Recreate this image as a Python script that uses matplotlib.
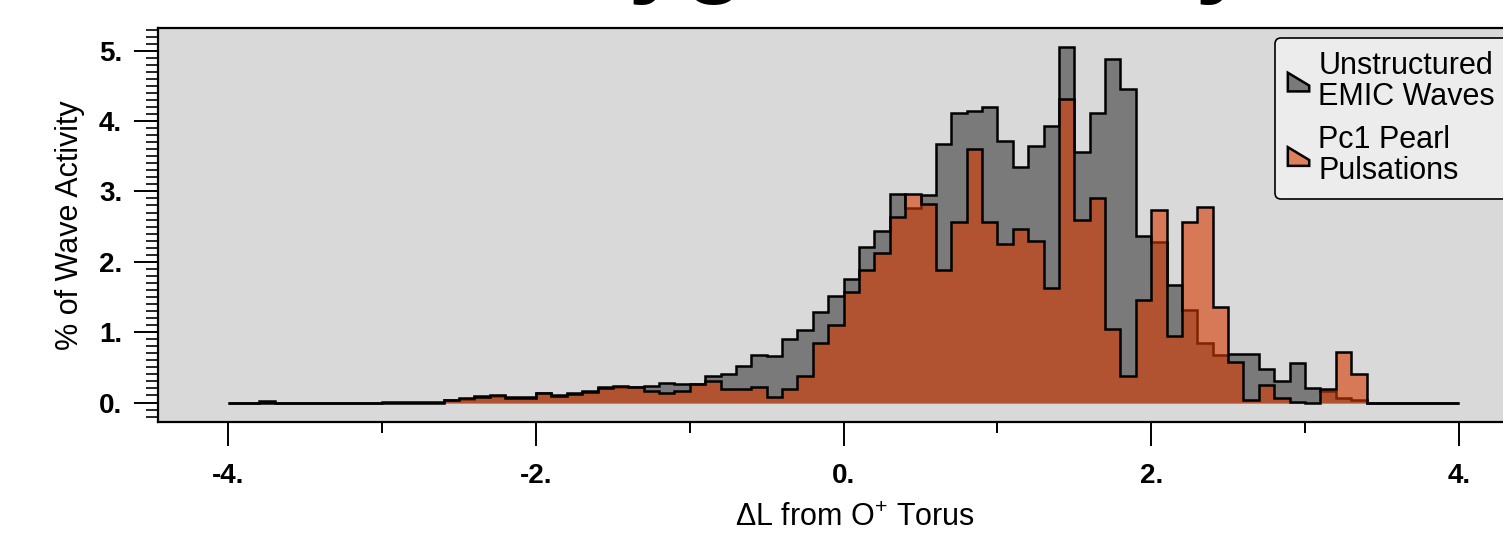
import numpy as np
import matplotlib
matplotlib.use("Agg")
import matplotlib.pyplot as plt
from matplotlib.patches import Polygon
from matplotlib.legend_handler import HandlerPatch
from matplotlib.ticker import MultipleLocator, FixedLocator

plt.rcParams['font.family'] = ['Liberation Sans', 'DejaVu Sans']
plt.rcParams['mathtext.fontset'] = 'custom'
plt.rcParams['mathtext.rm'] = 'Liberation Sans'
plt.rcParams['mathtext.it'] = 'Liberation Sans:italic'
plt.rcParams['mathtext.bf'] = 'Liberation Sans:bold'

# histogram bins of width 0.1 from -4 to 4
edges = np.round(np.linspace(-4.0, 4.0, 81), 1)

emic = [0, 0, 0.02, 0, 0, 0, 0, 0, 0, 0,
        0.01, 0.01, 0.01, 0.01,
        0.03, 0.05, 0.09, 0.09, 0.08, 0.08, 0.13, 0.10, 0.14, 0.17,
        0.22, 0.22, 0.22, 0.24, 0.28, 0.26, 0.27, 0.37, 0.41, 0.52,
        0.68, 0.66, 0.90, 1.03, 1.28, 1.52,
        1.75, 2.21, 2.44, 2.96, 2.76, 2.95, 3.68, 4.11, 4.14, 4.20,
        3.71, 3.35, 3.64, 3.93, 5.05, 3.56, 4.11, 4.88, 4.45, 2.37,
        2.28, 1.67, 1.32, 0.85, 0.67, 0.69, 0.69, 0.47, 0.30, 0.56,
        0.20, 0.17, 0.06, 0.04,
        0, 0, 0, 0, 0, 0]

pearl = [0, 0, 0, 0, 0, 0, 0, 0, 0, 0,
         0, 0, 0, 0,
         0.03, 0.06, 0.08, 0.10, 0.06, 0.06, 0.14, 0.09, 0.12, 0.15,
         0.21, 0.24, 0.22, 0.17, 0.14, 0.16, 0.26, 0.31, 0.19, 0.19,
         0.22, 0.08, 0.19, 0.37, 0.85, 1.10,
         1.57, 1.89, 2.12, 2.64, 2.97, 2.82, 1.88, 2.56, 3.61, 2.56,
         2.25, 2.46, 2.30, 1.63, 4.32, 2.59, 2.91, 1.04, 0.37, 1.45,
         2.74, 0.94, 2.57, 2.78, 1.36, 0.57, 0.03, 0.25, 0.06, 0.01,
         0.0, 0.19, 0.72, 0.41,
         0, 0, 0, 0, 0, 0]

labels = ['Unstructured\nEMIC Waves', 'Pc1 Pearl\nPulsations']
xticks_major = [-4, -2, 0, 2, 4]
xticks_minor = [-3, -1, 1, 3]
yticks_major = [0, 1, 2, 3, 4, 5]


def wedge_handle(legend, orig_handle, xdescent, ydescent, width, height, fontsize):
    pts = [(-xdescent, -ydescent + 0.1 * height),
           (-xdescent + width, -ydescent + 0.1 * height),
           (-xdescent + width, -ydescent + 0.35 * height),
           (-xdescent, -ydescent + 0.9 * height)]
    return Polygon(pts, closed=True)


fig = plt.figure(figsize=(15.03, 5.33), dpi=100)
ax = fig.add_axes([0.1053, 0.2088, 0.9267, 0.7387])
ax.set_facecolor('#d9d9d9')

g = ax.stairs(emic, edges, fill=True, facecolor='#7a7a7a', edgecolor='black',
              linewidth=1.8, label=labels[0])
o = ax.stairs(pearl, edges, fill=True, facecolor=(0.84, 0.22, 0.0, 0.6),
              edgecolor='black', linewidth=1.8, label=labels[1])

ax.set_xlim(-4.456, 4.6)
ax.set_ylim(-0.273, 5.323)

ax.xaxis.set_major_locator(FixedLocator(xticks_major))
ax.xaxis.set_minor_locator(FixedLocator(xticks_minor))
ax.set_xticklabels([f'{t}.' for t in xticks_major])
ax.yaxis.set_major_locator(FixedLocator(yticks_major))
ax.yaxis.set_minor_locator(MultipleLocator(0.1))
ax.set_yticklabels([f'{t}.' for t in yticks_major])

ax.tick_params(axis='x', which='major', direction='out', length=17, width=1.4, pad=13)
ax.tick_params(axis='x', which='minor', direction='out', length=8, width=1.4)
ax.tick_params(axis='y', which='major', direction='out', length=17, width=1.4, pad=9)
ax.tick_params(axis='y', which='minor', direction='out', length=8.5, width=1.2)
for lab in ax.get_xticklabels() + ax.get_yticklabels():
    lab.set_fontsize(20)
    lab.set_fontweight('bold')

for side in ['left', 'bottom', 'top']:
    ax.spines[side].set_linewidth(1.6)
ax.spines['right'].set_visible(False)

ax.set_xlabel('ΔL from O$^{+}$ Torus', fontsize=22, labelpad=10)
ax.set_ylabel('% of Wave Activity', fontsize=22, labelpad=10)

leg = ax.legend(handles=[g, o], labels=labels, loc='upper left',
                bbox_to_anchor=(1275 / 1503, 1 - 38 / 533),
                bbox_transform=fig.transFigure, fontsize=22,
                handler_map={g: HandlerPatch(patch_func=wedge_handle),
                             o: HandlerPatch(patch_func=wedge_handle)},
                handlelength=0.7, handleheight=0.8, handletextpad=0.3,
                borderpad=0.42, labelspacing=0.45, borderaxespad=0,
                frameon=True, fancybox=True, framealpha=1)
for t in leg.get_texts():
    t.set_linespacing(1.03)
leg.get_frame().set_facecolor('#ececec')
leg.get_frame().set_edgecolor('black')
leg.get_frame().set_linewidth(1.2)

# title sits above the top edge of the canvas
fig.text(495 / 1503, 1 + 16 / 533, 'Oxygen Density', fontsize=72,
         fontweight='bold', ha='left', va='baseline')

fig.savefig('out.png', dpi=100)
